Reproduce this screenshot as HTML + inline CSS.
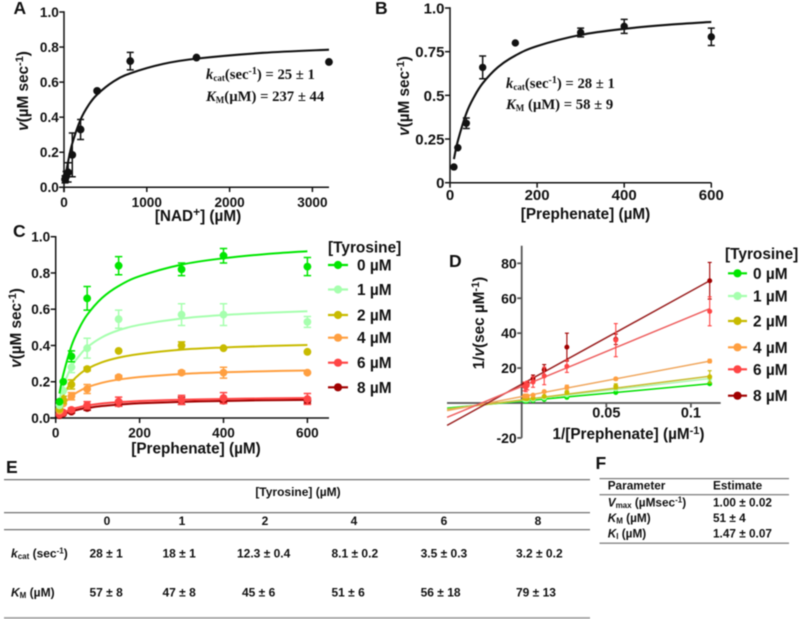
<!DOCTYPE html>
<html lang="en">
<head>
<meta charset="utf-8">
<title>Enzyme kinetics figure</title>
<style>
html,body{margin:0;padding:0;background:#fff;width:800px;height:619px;overflow:hidden}
svg{display:block;filter:blur(.5px)}
text{font-family:"Liberation Sans",sans-serif;font-weight:bold;fill:#111}
.serif{font-family:"Liberation Serif",serif}
.plabel{font-size:17.5px}
.title{font-size:15.3px}
.cell{font-size:12px}
.fcell{font-size:11.8px}
</style>
</head>
<body>
<svg id="fig" xmlns="http://www.w3.org/2000/svg" width="800" height="619" viewBox="0 0 800 619">
<g id="panelA">
<text class="plabel" x="13.5" y="14">A</text>
<text class="title" transform="translate(28,91) rotate(-90)" text-anchor="middle"><tspan font-style="italic">v</tspan>(µM sec<tspan dy="-5" font-size="11">-1</tspan><tspan dy="5">)</tspan></text>
<text class="title" x="198" y="221" text-anchor="middle" font-size="15.5">[NAD<tspan dy="-5" font-size="12">+</tspan><tspan dy="5">] (µM)</tspan></text>
<text class="serif" x="206" y="79" font-size="14.7"><tspan font-style="italic">k</tspan><tspan font-size="9" dy="2">cat</tspan><tspan dy="-2">(sec</tspan><tspan dy="-5" font-size="10">-1</tspan><tspan dy="5">) = 25 ± 1</tspan></text>
<text class="serif" x="206" y="101" font-size="14.7"><tspan font-style="italic">K</tspan><tspan font-size="9" dy="2">M</tspan><tspan dy="-2">(µM) = 237 ± 44</tspan></text>
</g>
<g id="panelB">
<text class="plabel" x="375" y="14">B</text>
<text class="title" transform="translate(409,96) rotate(-90)" text-anchor="middle"><tspan font-style="italic">v</tspan>(µM sec<tspan dy="-5" font-size="11">-1</tspan><tspan dy="5">)</tspan></text>
<text class="title" x="585.5" y="219" text-anchor="middle" font-size="14.5">[Prephenate] (µM)</text>
<text class="serif" x="506" y="88" font-size="14.7"><tspan font-style="italic">k</tspan><tspan font-size="9" dy="2">cat</tspan><tspan dy="-2">(sec</tspan><tspan dy="-5" font-size="10">-1</tspan><tspan dy="5">) = 28 ± 1</tspan></text>
<text class="serif" x="506" y="109" font-size="14.7"><tspan font-style="italic">K</tspan><tspan font-size="9" dy="2">M</tspan><tspan dy="-2"> (µM) = 58 ± 9</tspan></text>
</g>
<g id="panelC">
<text class="plabel" x="13" y="237">C</text>
<text class="title" transform="translate(21,328) rotate(-90)" text-anchor="middle"><tspan font-style="italic">v</tspan>(µM sec<tspan dy="-5" font-size="11">-1</tspan><tspan dy="5">)</tspan></text>
<text class="title" x="196" y="453.3" text-anchor="middle" font-size="14.5">[Prephenate] (µM)</text>
<text x="328" y="252.5" font-size="15.4">[Tyrosine]</text>
</g>
<g id="panelD">
<text class="plabel" x="449" y="267">D</text>
<text class="title" transform="translate(484,323) rotate(-90)" text-anchor="middle">1/<tspan font-style="italic">v</tspan>(sec µM<tspan dy="-5" font-size="11">-1</tspan><tspan dy="5">)</tspan></text>
<text class="title" x="628.5" y="439" text-anchor="middle">1/[Prephenate] (µM<tspan dy="-5" font-size="11">-1</tspan><tspan dy="5">)</tspan></text>
<text x="725" y="259" font-size="15.4">[Tyrosine]</text>
</g>
<g id="tableE">
<text class="plabel" x="6" y="473">E</text>
<rect x="4" y="479" width="586" height="1.3" fill="#777"/>
<rect x="4" y="512" width="586" height="1.3" fill="#777"/>
<rect x="4" y="529" width="586" height="1.3" fill="#777"/>
<rect x="4" y="617" width="586" height="2" fill="#aaa"/>
<text class="cell" x="298" y="496" text-anchor="middle">[Tyrosine] (µM)</text>
<text class="cell" x="107" y="525" text-anchor="middle">0</text>
<text class="cell" x="182" y="525" text-anchor="middle">1</text>
<text class="cell" x="265" y="525" text-anchor="middle">2</text>
<text class="cell" x="354" y="525" text-anchor="middle">4</text>
<text class="cell" x="444" y="525" text-anchor="middle">6</text>
<text class="cell" x="538" y="525" text-anchor="middle">8</text>
<text class="cell" x="11" y="557.7"><tspan font-style="italic">k</tspan><tspan font-size="8" dy="1.5">cat</tspan><tspan dy="-1.5"> (sec</tspan><tspan font-size="8" dy="-4">-1</tspan><tspan dy="4">)</tspan></text>
<text class="cell" x="89.5" y="557.7">28 ± 1</text>
<text class="cell" x="162.5" y="557.7">18 ± 1</text>
<text class="cell" x="237" y="557.7">12.3 ± 0.4</text>
<text class="cell" x="331.5" y="557.7">8.1 ± 0.2</text>
<text class="cell" x="420.6" y="557.7">3.5 ± 0.3</text>
<text class="cell" x="516" y="557.7">3.2 ± 0.2</text>
<text class="cell" x="11" y="596.7"><tspan font-style="italic">K</tspan><tspan font-size="8" dy="1.5">M</tspan><tspan dy="-1.5"> (µM)</tspan></text>
<text class="cell" x="89.5" y="596.7">57 ± 8</text>
<text class="cell" x="162.5" y="596.7">47 ± 8</text>
<text class="cell" x="242" y="596.7">45 ± 6</text>
<text class="cell" x="331.5" y="596.7">51 ± 6</text>
<text class="cell" x="420.6" y="596.7">56 ± 18</text>
<text class="cell" x="516" y="596.7">79 ± 13</text>
</g>
<g id="tableF">
<text class="plabel" x="595.5" y="469">F</text>
<rect x="599.5" y="478" width="189.5" height="1.2" fill="#777"/>
<rect x="599.5" y="494" width="189.5" height="1.4" fill="#888"/>
<rect x="599.5" y="542.5" width="189.5" height="1.4" fill="#888"/>
<text class="fcell" x="607.7" y="489.3">Parameter</text>
<text class="fcell" x="713" y="489.3">Estimate</text>
<text class="fcell" x="607.7" y="506.7"><tspan font-style="italic">V</tspan><tspan font-size="8" dy="1.5">max</tspan><tspan dy="-1.5"> (µMsec</tspan><tspan font-size="8" dy="-4">-1</tspan><tspan dy="4">)</tspan></text>
<text class="fcell" x="713" y="506.7">1.00 ± 0.02</text>
<text class="fcell" x="607.7" y="522"><tspan font-style="italic">K</tspan><tspan font-size="8" dy="1.5">M</tspan><tspan dy="-1.5"> (µM)</tspan></text>
<text class="fcell" x="713" y="522">51 ± 4</text>
<text class="fcell" x="607.7" y="537.5"><tspan font-style="italic">K</tspan><tspan font-size="8" dy="1.5">I</tspan><tspan dy="-1.5"> (µM)</tspan></text>
<text class="fcell" x="713" y="537.5">1.47 ± 0.07</text>
</g>
</svg>
<script>
// ---------- Panel A data ----------
const aX = [12.5, 25, 50, 100, 200, 400, 800, 1600, 3200];
const aV = [0.045, 0.06, 0.085, 0.185, 0.33, 0.55, 0.72, 0.74, 0.715];
const aErr = [0.02, 0.03, 0.055, 0.125, 0.057, 0, 0.05, 0, 0];
const aFitX = [20, 50, 100, 200, 300, 400, 600, 800, 1200, 1600, 2400, 3200];
const aFitV = [0.066, 0.147, 0.25, 0.386, 0.471, 0.529, 0.604, 0.65, 0.704, 0.734, 0.767, 0.785];
const aXTicks = [0, 1000, 2000, 3000];
const aYTicks = [0, 0.2, 0.4, 0.6, 0.8, 1];
const aYLabels = ['0.0', '0.2', '0.4', '0.6', '0.8', '1.0'];
// ---------- Panel B data ----------
const bX = [9, 18, 37.5, 75, 150, 300, 400, 600];
const bV = [0.09, 0.2, 0.34, 0.66, 0.8, 0.86, 0.895, 0.835];
const bErr = [0, 0, 0.03, 0.065, 0, 0.025, 0.04, 0.05];
const bFitX = [9, 18, 37.5, 55, 75, 110, 150, 200, 300, 400, 500, 600];
const bFitV = [0.135, 0.239, 0.397, 0.49, 0.569, 0.661, 0.728, 0.782, 0.846, 0.881, 0.904, 0.92];
const bXTicks = [0, 200, 400, 600];
const bYTicks = [0, 0.25, 0.5, 0.75, 1];
const bYLabels = ['0', '0.25', '0.5', '0.75', '1.0'];
// ---------- Panel C data ----------
const cX = [9, 18, 37.5, 75, 150, 300, 400, 600];
const cFitX = [9, 18, 37.5, 55, 75, 110, 150, 200, 300, 400, 500, 600];
const tyrosineLabels = ['0 µM', '1 µM', '2 µM', '4 µM', '6 µM', '8 µM'];
const cV0 = [0.09, 0.2, 0.34, 0.66, 0.84, 0.82, 0.895, 0.835];
const cV1 = [0.07, 0.15, 0.28, 0.385, 0.545, 0.57, 0.57, 0.53];
const cV2 = [0.05, 0.1, 0.185, 0.27, 0.37, 0.4, 0.385, 0.365];
const cV4 = [0.04, 0.08, 0.12, 0.16, 0.225, 0.25, 0.25, 0.25];
const cV6 = [0.02, 0.03, 0.045, 0.07, 0.09, 0.1, 0.11, 0.105];
const cV8 = [0.015, 0.025, 0.035, 0.055, 0.08, 0.095, 0.095, 0.095];
const cE0 = [0, 0, 0.03, 0.065, 0.05, 0.035, 0.04, 0.05];
const cE1 = [0, 0, 0.03, 0.055, 0.05, 0.06, 0.06, 0.03];
const cE2 = [0, 0.02, 0.025, 0.01, 0, 0.02, 0, 0];
const cE4 = [0, 0, 0.02, 0.025, 0.01, 0.01, 0.03, 0.005];
const cE6 = [0, 0, 0.01, 0.02, 0.025, 0.025, 0.03, 0.03];
const cE8 = [0, 0, 0.008, 0.012, 0.015, 0.02, 0.01, 0.015];
const cF0 = [0.135, 0.239, 0.397, 0.49, 0.569, 0.661, 0.728, 0.782, 0.846, 0.881, 0.904, 0.92];
const cF1 = [0.102, 0.176, 0.282, 0.34, 0.39, 0.445, 0.484, 0.514, 0.549, 0.568, 0.58, 0.589];
const cF2 = [0.072, 0.124, 0.197, 0.238, 0.271, 0.307, 0.333, 0.353, 0.377, 0.389, 0.397, 0.403];
const cF4 = [0.043, 0.074, 0.12, 0.147, 0.169, 0.194, 0.212, 0.226, 0.243, 0.252, 0.258, 0.262];
const cF6 = [0.017, 0.029, 0.048, 0.059, 0.069, 0.08, 0.087, 0.094, 0.101, 0.105, 0.108, 0.11];
const cF8 = [0.012, 0.021, 0.036, 0.047, 0.055, 0.066, 0.074, 0.081, 0.089, 0.094, 0.098, 0.1];
const cXTicks = [0, 200, 400, 600];
const cYTicks = [0, 0.2, 0.4, 0.6, 0.8, 1];
const cYLabels = ['0.0', '0.2', '0.4', '0.6', '0.8', '1.0'];
// ---------- Panel D data ----------
const dX = [0.1111, 0.0556, 0.0267, 0.0133, 0.0067, 0.0033, 0.0025, 0.0017];
const dFitX = [-0.0441, 0.1111];
const dV0 = [11, 6, 3.2, 2, 1.4, 1.2, 1.1, 1.2];
const dV1 = [14, 8, 4.6, 2.9, 2, 1.8, 1.7, 1.8];
const dV2 = [15, 9.5, 6, 3.8, 2.7, 2.5, 2.5, 2.7];
const dV4 = [24, 13.8, 9, 6.5, 4.5, 4, 4, 4];
const dV6 = [52.5, 36, 21, 15.5, 12, 10, 9, 9.5];
const dV8 = [70, 36.5, 32, 19, 14, 11, 10.5, 10.5];
const dE0 = [0.6, 0.5, 0.3, 0.2, 0.2, 0.2, 0.2, 0.2];
const dE1 = [1.2, 0.6, 0.4, 0.3, 0.2, 0.2, 0.2, 0.2];
const dE2 = [3.5, 1.5, 1, 0.5, 0.3, 0.3, 0.3, 0.3];
const dE4 = [1, 0.8, 1.2, 0.6, 0.5, 0.3, 0.3, 0.3];
const dE6 = [8.3, 9.5, 3.5, 5, 3, 2.5, 2.5, 2.5];
const dE8 = [10.5, 3, 8, 3, 2, 1, 1, 1.5];
const dF0 = [-2.9, 11];
const dF1 = [-3.4, 14];
const dF2 = [-3.6, 15.3];
const dF4 = [-4.4, 24];
const dF6 = [-8.2, 54];
const dF8 = [-12.8, 70];
const dXTicks = [0.05, 0.1];
const dXLabels = ['0.05', '0.1'];
const dYTicks = [-20, 20, 40, 60, 80];
const dYLabels = ['-20', '20', '40', '60', '80'];
// ---------- Shared colours (series order 0,1,2,4,6,8 µM) ----------
const seriesColors = ['#00e600', '#a6ffae', '#c8bb00', '#ff9f40', '#ff4545', '#a00000'];

const NS = 'http://www.w3.org/2000/svg';
function make(tag, parent, props) {
  const n = document.createElementNS(NS, tag);
  for (const k in props) n.setAttribute(k, props[k]);
  parent.appendChild(n);
  return n;
}
function linear(d0, d1, r0, r1) {
  return v => r0 + (v - d0) * (r1 - r0) / (d1 - d0);
}
function smoothPath(xs, ys) {
  let d = 'M' + xs[0].toFixed(2) + ' ' + ys[0].toFixed(2);
  const n = xs.length;
  for (let i = 0; i < n - 1; i++) {
    const a = Math.max(i - 1, 0), b = Math.min(i + 2, n - 1);
    const c1x = xs[i] + (xs[i + 1] - xs[a]) / 6, c1y = ys[i] + (ys[i + 1] - ys[a]) / 6;
    const c2x = xs[i + 1] - (xs[b] - xs[i]) / 6, c2y = ys[i + 1] - (ys[b] - ys[i]) / 6;
    d += 'C' + c1x.toFixed(2) + ' ' + c1y.toFixed(2) + ' ' + c2x.toFixed(2) + ' ' + c2y.toFixed(2) + ' ' + xs[i + 1].toFixed(2) + ' ' + ys[i + 1].toFixed(2);
  }
  return d;
}
function drawAxes(g, prefix, o) {
  const ax = make('g', g, {});
  
  
  const xLine = make('line', ax, {x1: o.x0, x2: o.x1, y1: o.yAt, y2: o.yAt, stroke: o.color, 'stroke-width': o.lw});
  
  
  const yLine = make('line', ax, {x1: o.xAt, x2: o.xAt, y1: o.y0, y2: o.y1, stroke: o.color, 'stroke-width': o.lw});
  
  
  o.xTicks.forEach((t, i) => {
    make('line', ax, {x1: o.sx(t), x2: o.sx(t), y1: o.yAt, y2: o.yAt + o.tick, stroke: o.color, 'stroke-width': o.lw});
    const lab = make('text', ax, {x: o.sx(t), y: o.xBase, 'text-anchor': 'middle', 'font-size': o.xfs || o.fs});
    lab.textContent = o.xLabels[i];
    
    
  });
  o.yTicks.forEach((t, i) => {
    make('line', ax, {x1: o.xAt - o.tick, x2: o.xAt, y1: o.sy(t), y2: o.sy(t), stroke: o.color, 'stroke-width': o.lw});
    const lab = make('text', ax, {x: o.xAt - o.tick - 0.5, y: o.sy(t) + o.fs * 0.36, 'text-anchor': 'end', 'font-size': o.fs});
    lab.textContent = o.yLabels[i];
    
    
  });
}
function drawSeries(g, prefix, o) {
  const s = make('g', g, {});
  
  
  const fit = make('path', s, {d: smoothPath(o.fitX.map(o.sx), o.fitV.map(o.sy)), fill: 'none', stroke: o.lineColor || o.color, 'stroke-width': o.lineW});
  
  
  o.x.forEach((x, i) => {
    const px = o.sx(x), py = o.sy(o.v[i]), e = o.err[i];
    if (e > 0) {
      const eb = make('path', s, {
        d: 'M' + px + ' ' + o.sy(o.v[i] + e) + 'V' + o.sy(o.v[i] - e) +
           'M' + (px - o.cap) + ' ' + o.sy(o.v[i] + e) + 'H' + (px + o.cap) +
           'M' + (px - o.cap) + ' ' + o.sy(o.v[i] - e) + 'H' + (px + o.cap),
        fill: 'none', stroke: o.color, 'stroke-width': o.errW
      });
      
      
    }
    const pt = make('circle', s, {cx: px, cy: py, r: o.r, fill: o.color});
    
    
  });
}
function drawLegend(g, prefix, x0, x1, textX, ys, r) {
  tyrosineLabels.forEach((label, i) => {
    const e = make('g', g, {});
    
    
    make('line', e, {x1: x0, x2: x1, y1: ys[i], y2: ys[i], stroke: seriesColors[i], 'stroke-width': 2.2});
    make('circle', e, {cx: (x0 + x1) / 2, cy: ys[i], r: r, fill: seriesColors[i]});
    const t = make('text', e, {x: textX, y: ys[i] + 5.5, 'font-size': 15.4});
    t.textContent = label;
  });
}

// Panel A
(function () {
  const g = document.getElementById('panelA');
  const sx = linear(0, 3000, 64, 312.4), sy = linear(0, 1, 187.3, 12);
  drawAxes(g, 'panel-a', {sx, sy, x0: 59, x1: 329, y0: sy(0) + 5, y1: sy(1) - 0.7, yAt: sy(0), xAt: 64, color: '#111', lw: 1.5, tick: 4.7, fs: 13.6, xBase: 207,
    xTicks: aXTicks, xLabels: aXTicks.map(String), yTicks: aYTicks, yLabels: aYLabels});
  drawSeries(g, 'panel-a-series', {sx, sy, x: aX, v: aV, err: aErr, fitX: aFitX, fitV: aFitV, color: '#111', lineW: 2.1, errW: 1.5, cap: 3.5, r: 3.9});
})();
// Panel B
(function () {
  const g = document.getElementById('panelB');
  const sx = linear(0, 600, 450, 711.3), sy = linear(0, 1, 182.7, 8);
  drawAxes(g, 'panel-b', {sx, sy, x0: 450, x1: 711.3, y0: sy(0), y1: sy(1) - 0.7, yAt: sy(0), xAt: 450, color: '#111', lw: 1.5, tick: 5, fs: 15, xBase: 200,
    xTicks: bXTicks, xLabels: bXTicks.map(String), yTicks: bYTicks, yLabels: bYLabels});
  drawSeries(g, 'panel-b-series', {sx, sy, x: bX, v: bV, err: bErr, fitX: bFitX, fitV: bFitV, color: '#111', lineW: 2.1, errW: 1.5, cap: 3.5, r: 3.7});
})();
// Panel C
(function () {
  const g = document.getElementById('panelC');
  const sx = linear(0, 600, 55.7, 307.4), sy = linear(0, 1, 418, 236.7);
  drawAxes(g, 'panel-c', {sx, sy, x0: 50, x1: 329, y0: sy(0), y1: sy(1) - 0.7, yAt: sy(0), xAt: 55.7, color: '#111', lw: 1.5, tick: 5, fs: 13.6, xBase: 437.3,
    xTicks: cXTicks, xLabels: cXTicks.map(String), yTicks: cYTicks, yLabels: cYLabels});
  const vals = [cV0, cV1, cV2, cV4, cV6, cV8], errs = [cE0, cE1, cE2, cE4, cE6, cE8], fits = [cF0, cF1, cF2, cF4, cF6, cF8];
  for (let i = 5; i >= 0; i--) {
    drawSeries(g, 'panel-c-series-' + tyrosineLabels[i].split(' ')[0] + 'um', {sx, sy, x: cX, v: vals[i], err: errs[i], fitX: cFitX, fitV: fits[i], color: seriesColors[i], lineW: 2, errW: 1.5, cap: 3.7, r: 3.9});
  }
  drawLegend(g, 'panel-c', 328, 348, 357, [265, 289.5, 315, 337.7, 362.7, 387.3], 4.1);
})();
// Panel D
(function () {
  const g = document.getElementById('panelD');
  const sx = linear(0, 0.1111, 521.7, 709.7), sy = linear(0, 80, 403, 263.3);
  drawAxes(g, 'panel-d', {sx, sy, x0: 447, x1: 720.7, y0: sy(-20), y1: 245.7, yAt: 403, xAt: 521.7, color: '#555', lw: 1.8, tick: 4.5, fs: 14, xfs: 14.5, xBase: 417.7,
    xTicks: dXTicks, xLabels: dXLabels, yTicks: dYTicks, yLabels: dYLabels});
  const vals = [dV0, dV1, dV2, dV4, dV6, dV8], errs = [dE0, dE1, dE2, dE4, dE6, dE8], fits = [dF0, dF1, dF2, dF4, dF6, dF8];
  const lineCols = ['#00e000', '#b0f5b0', '#c8bb30', '#f0a860', '#ee6060', '#9a2020'];
  const order = [0, 1, 2, 3, 5, 4];
  order.forEach(i => {
    drawSeries(g, 'panel-d-series-' + tyrosineLabels[i].split(' ')[0] + 'um', {sx, sy, x: dX, v: vals[i], err: errs[i], fitX: dFitX, fitV: fits[i], color: seriesColors[i], lineColor: lineCols[i], lineW: 1.5, errW: 1.1, cap: 2, r: 2.5});
  });
  drawLegend(g, 'panel-d', 728, 747, 753, [273.3, 296, 321, 347.3, 369.3, 395.7], 4.1);
})();
</script>
</body>
</html>
